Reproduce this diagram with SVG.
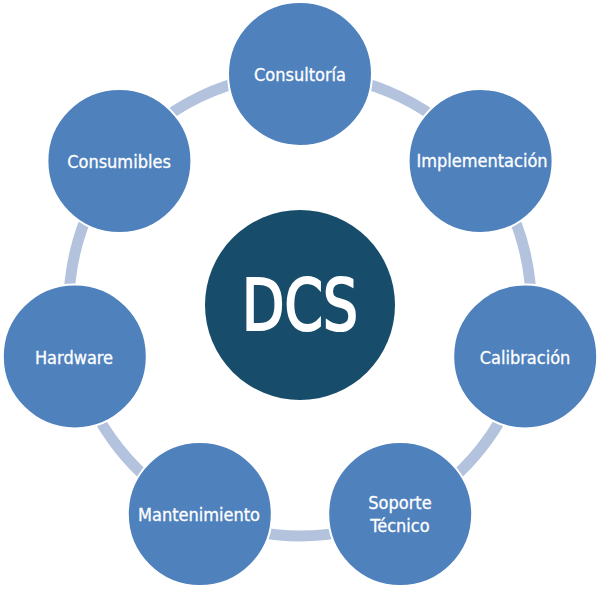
<svg xmlns="http://www.w3.org/2000/svg" width="600" height="589" viewBox="0 0 600 589">
<style>
.ring{fill:none;stroke:#b3c3de;stroke-width:11}
.node{fill:#4f81bd;stroke:#ffffff;stroke-width:2}
.lbl{fill:#ffffff;stroke:#ffffff;stroke-width:0.3;font-family:"DejaVu Sans Condensed","DejaVu Sans","Liberation Sans",sans-serif;font-size:18px;text-anchor:middle}
.hub{fill:#174c6b}
.hubtxt{fill:#ffffff;stroke:#ffffff;stroke-width:2.2;font-family:"DejaVu Sans Condensed","DejaVu Sans","Liberation Sans",sans-serif;font-size:72px;text-anchor:middle}
</style>
<rect width="600" height="589" fill="#ffffff"/>
<g id="connectors">
<path class="ring" d="M300,74 A231,231 0 0 1 480.60,160.97"/>
<path class="ring" d="M480.60,160.97 A231,231 0 0 1 525.21,356.40"/>
<path class="ring" d="M525.21,356.40 A231,231 0 0 1 400.23,513.12"/>
<path class="ring" d="M400.23,513.12 A231,231 0 0 1 199.77,513.12"/>
<path class="ring" d="M199.77,513.12 A231,231 0 0 1 74.79,356.40"/>
<path class="ring" d="M74.79,356.40 A231,231 0 0 1 119.40,160.97"/>
<path class="ring" d="M119.40,160.97 A231,231 0 0 1 300,74"/>
</g>
<g id="dcs">
<circle class="hub" cx="300" cy="305" r="95"/>
<text class="hubtxt" transform="translate(300,330) scale(0.85,1)" x="0" y="0">DCS</text>
</g>
<g id="consultoria">
<circle class="node" cx="300" cy="74" r="72"/>
<text class="lbl" x="300" y="81">Consultoría</text>
</g>
<g id="implementacion">
<circle class="node" cx="480.6" cy="161" r="72"/>
<text class="lbl" x="482" y="167">Implementación</text>
</g>
<g id="calibracion">
<circle class="node" cx="525.2" cy="356.4" r="72"/>
<text class="lbl" x="525" y="364">Calibración</text>
</g>
<g id="soporte-tecnico">
<circle class="node" cx="400.2" cy="514" r="72"/>
<text class="lbl" x="400" y="509">Soporte</text>
<text class="lbl" x="400" y="532">Técnico</text>
</g>
<g id="mantenimiento">
<circle class="node" cx="199.8" cy="514" r="72"/>
<text class="lbl" x="199" y="521">Mantenimiento</text>
</g>
<g id="hardware">
<circle class="node" cx="74.8" cy="356.4" r="72"/>
<text class="lbl" x="74" y="364">Hardware</text>
</g>
<g id="consumibles">
<circle class="node" cx="119.4" cy="161" r="72"/>
<text class="lbl" x="119" y="168">Consumibles</text>
</g>
</svg>
